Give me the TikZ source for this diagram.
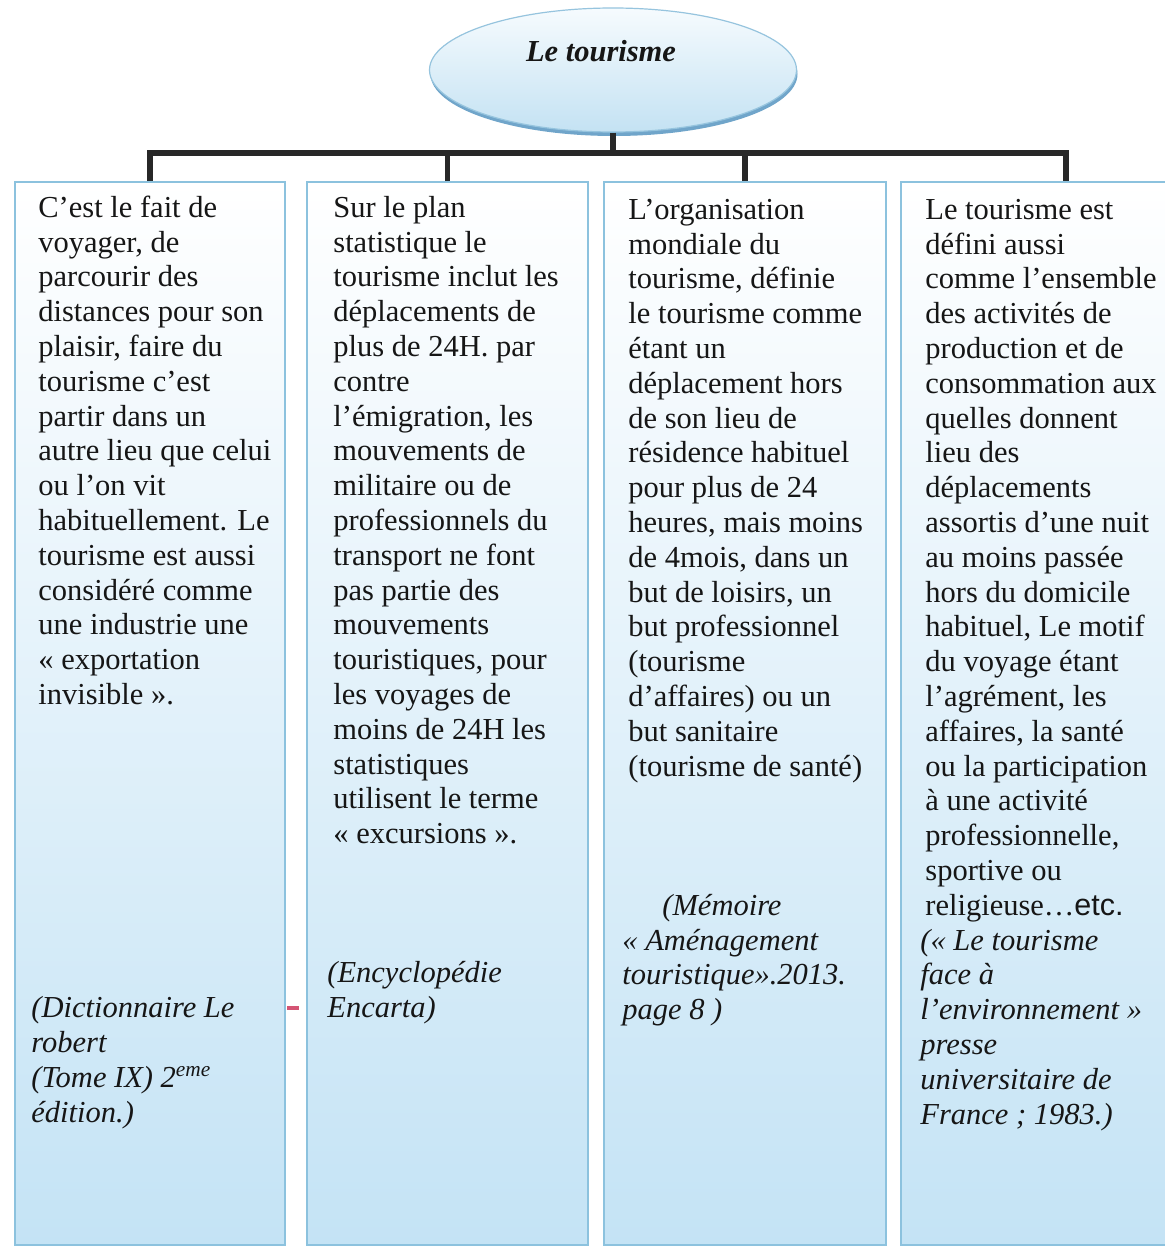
\documentclass[tikz,border=0pt]{standalone}
\usepackage{fontspec}
\setmainfont{Liberation Serif}
\newfontfamily\etcfont{Liberation Sans}
\usetikzlibrary{shapes.geometric}
\definecolor{boxline}{RGB}{140,194,222}
\definecolor{boxbot}{RGB}{196,227,245}
\definecolor{boxmid}{RGB}{228,242,251}
\definecolor{ink}{RGB}{22,22,22}
\definecolor{connc}{RGB}{40,40,40}
\definecolor{ellline}{RGB}{150,196,222}
\definecolor{elltop}{RGB}{246,251,254}
\definecolor{ellbot}{RGB}{196,226,243}
\definecolor{shadowblue}{RGB}{112,165,202}
\definecolor{markred}{RGB}{212,84,116}
\begin{document}
\begin{tikzpicture}[x=0.5pt,y=-0.5pt,
  panel/.style={rectangle, draw=boxline, line width=0.9pt, top color=white, middle color=boxmid, bottom color=boxbot, inner sep=0pt},
  body/.style={anchor=north west, inner sep=0pt, align=left, text=ink, font=\fontsize{15.25pt}{17.4pt}\selectfont},
  cite/.style={anchor=north west, inner sep=0pt, align=left, text=ink, font=\fontsize{15.25pt}{17.4pt}\selectfont\itshape},
  link/.style={draw=connc, line width=2.6pt, line join=miter},
]
\useasboundingbox (0,0) rectangle (1165,1247);
\clip (0,0) rectangle (1165,1247);
\fill[white] (0,0) rectangle (1165,1247);

% root ellipse
\node[ellipse, fill=shadowblue, inner sep=0pt, minimum width=183.5pt, minimum height=62pt] (rootshadow) at (614,74) {};
\node[ellipse, draw=ellline, line width=0.6pt, top color=elltop, bottom color=ellbot, inner sep=0pt, minimum width=183.5pt, minimum height=62pt] (root) at (613,70) {};
\node[anchor=base, inner sep=0pt, text=ink, font=\fontsize{15.25pt}{17.4pt}\selectfont\bfseries\itshape] (title) at (601,62) {Le tourisme};

% panels
\node[panel, minimum width=135pt, minimum height=531.5pt] (b1) at (150,713.5) {};
\node[panel, minimum width=140.5pt, minimum height=531.5pt] (b2) at (447.5,713.5) {};
\node[panel, minimum width=141pt, minimum height=531.5pt] (b3) at (745,713.5) {};
\node[panel, minimum width=165pt, minimum height=531.5pt] (b4) at (1066,713.5) {};

% connectors
\coordinate (bar) at (0,153);
\draw[link] (b1.north) -- (b1.north |- bar) -- (b4.north |- bar) -- (b4.north);
\draw[link] (b2.north) -- (b2.north |- bar);
\draw[link] (b3.north) -- (b3.north |- bar);
\draw[link] (root.south) -- (root.south |- bar);

% small red mark
\coordinate (m1) at (287,1008);
\coordinate (m2) at (299,1008);
\draw[markred, line width=2pt] (m1) -- (m2);

% box 1
\node[body] (t1) at (38,192.6) {\strut C’est le fait de\\
voyager, de\\
parcourir des\\
distances pour son\\
plaisir, faire du\\
tourisme c’est\\
partir dans un\\
autre lieu que celui\\
ou l’on vit\\
habituellement. Le\\
tourisme est aussi\\
considéré comme\\
une industrie une\\
« exportation\\
invisible ».};
\node[cite] (c1) at (31,993.0) {\strut (Dictionnaire Le\\
robert\\
(Tome IX) 2\textsuperscript{eme}\\
édition.)};

% box 2
\node[body] (t2) at (333,192.6) {\strut Sur le plan\\
statistique le\\
tourisme inclut les\\
déplacements de\\
plus de 24H. par\\
contre\\
l’émigration, les\\
mouvements de\\
militaire ou de\\
professionnels du\\
transport ne font\\
pas partie des\\
mouvements\\
touristiques, pour\\
les voyages de\\
moins de 24H les\\
statistiques\\
utilisent le terme\\
« excursions ».};
\node[cite] (c2) at (327,958.2) {\strut (Encyclopédie\\
Encarta)};

% box 3
\node[body] (t3) at (628,194.6) {\strut L’organisation\\
mondiale du\\
tourisme, définie\\
le tourisme comme\\
étant un\\
déplacement hors\\
de son lieu de\\
résidence habituel\\
pour plus de 24\\
heures, mais moins\\
de 4mois, dans un\\
but de loisirs, un\\
but professionnel\\
(tourisme\\
d’affaires) ou un\\
but sanitaire\\
(tourisme de santé)};
\node[cite] (c3) at (622,890.6) {\strut\hspace*{20pt}(Mémoire\\
« Aménagement\\
touristique».2013.\\
page 8 )};

% box 4
\node[body] (t4) at (925,194.6) {\strut Le tourisme est\\
défini aussi\\
comme l’ensemble\\
des activités de\\
production et de\\
consommation aux\\
quelles donnent\\
lieu des\\
déplacements\\
assortis d’une nuit\\
au moins passée\\
hors du domicile\\
habituel, Le motif\\
du voyage étant\\
l’agrément, les\\
affaires, la santé\\
ou la participation\\
à une activité\\
professionnelle,\\
sportive ou\\
religieuse…{\etcfont etc.}};
\node[cite] (c4) at (920,925.4) {\strut (« Le tourisme\\
face à\\
l’environnement »\\
presse\\
universitaire de\\
France ; 1983.)};
\end{tikzpicture}
\end{document}
